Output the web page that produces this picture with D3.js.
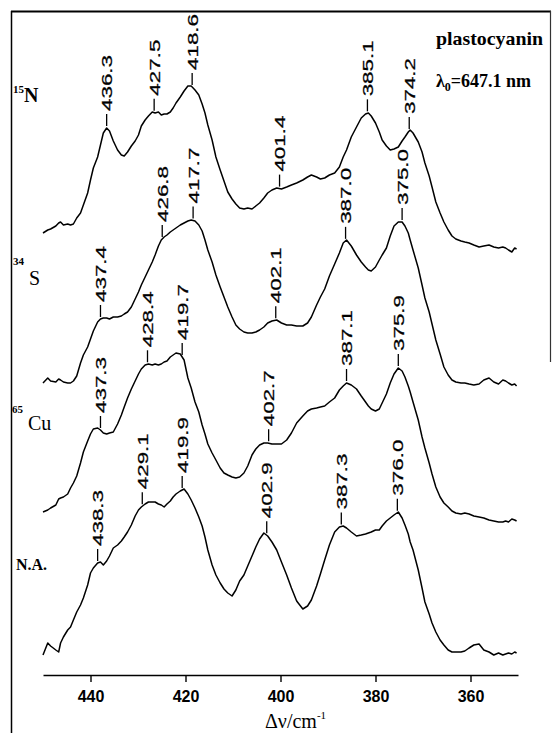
<!DOCTYPE html>
<html><head><meta charset="utf-8">
<script src="https://cdn.jsdelivr.net/npm/d3@7"></script>
<style>body{margin:0;background:#fff}</style>
</head><body>
<svg id="c" width="552" height="733"></svg>
<script>
// Raman shift grid (cm^-1), shared by all four spectra
const wavenumber = [450.0,449.0,448.4,447.3,446.7,446.3,445.7,444.8,444.2,443.6,442.9,442.1,441.5,440.6,440.0,439.4,438.5,437.9,437.3,436.6,436.0,435.2,434.3,433.5,432.9,432.2,431.4,430.6,429.9,429.3,428.5,427.8,427.0,426.4,425.7,425.1,424.5,423.9,423.2,422.6,422.0,421.1,420.3,419.5,418.8,418.0,417.2,416.5,415.9,415.3,414.4,413.6,412.7,411.9,411.1,410.2,409.4,408.6,407.7,406.9,406.0,405.2,404.4,403.5,402.7,401.8,400.8,399.8,398.7,397.7,396.6,395.3,394.3,393.5,392.4,391.6,390.7,389.7,388.6,387.6,386.8,386.1,385.1,384.0,383.0,382.1,381.5,380.9,380.0,379.2,378.6,377.7,376.9,376.1,375.2,374.4,373.8,373.1,372.7,372.1,371.0,370.2,369.6,368.7,368.1,367.3,366.4,365.6,364.7,363.9,363.1,362.0,361.2,360.3,359.3,358.2,357.2,356.1,355.1,354.1,353.2,352.6,352.0,351.3,350.7,350.3];

// Intensities (arbitrary units, stacked with offsets)
const int15N = [442,445,446,449,452,453,450,451,450,451,457,462,470,482,495,507,518,530,542,547,544,534,525,520,519,523,529,534,540,549,555,559,563,562,563,560,561,561,563,567,572,578,584,589,589,585,580,571,562,550,535,518,505,494,483,476,471,467,466,467,466,469,472,477,482,485,487,486,488,490,492,495,498,500,498,496,497,500,502,508,518,525,538,548,557,561,562,559,552,543,535,529,525,526,528,534,538,543,545,542,533,523,512,499,488,473,462,453,445,439,436,434,433,432,430,428,429,430,428,427,428,427,425,423,427,426];
const int34S = [292,297,294,293,296,295,293,292,292,294,299,312,320,328,336,344,353,356,357,357,356,358,358,359,361,363,368,376,383,390,398,405,413,420,429,435,438,440,443,445,447,450,452,454,455,454,450,444,435,425,413,400,388,378,368,358,350,346,343,342,342,343,345,348,352,354,355,352,350,350,349,349,352,358,370,378,386,399,411,422,432,435,429,420,413,408,405,404,408,415,420,427,439,449,453,453,449,442,435,425,407,390,377,363,351,335,321,308,300,295,293,292,292,291,290,291,295,297,293,291,295,294,292,290,291,289];
const int65Cu = [163,165,167,170,176,177,178,181,187,192,199,212,223,234,241,246,247,245,242,241,242,243,251,260,268,277,286,294,301,306,310,311,310,311,310,311,313,314,318,320,322,321,315,297,287,273,263,250,241,231,222,215,207,202,200,198,197,198,202,209,220,226,230,232,232,231,231,231,235,242,252,259,264,266,267,268,269,273,277,285,289,292,290,286,279,273,269,266,264,266,272,281,292,301,307,304,298,289,283,273,255,238,227,212,201,188,178,172,168,164,162,161,162,161,159,158,157,155,154,153,153,154,153,156,155,154];
const intNA = [20,32,29,25,23,32,38,45,48,55,63,70,77,90,102,107,112,113,110,114,119,127,130,134,138,143,150,159,165,168,171,173,173,173,171,170,168,171,174,178,181,184,186,181,175,167,158,149,138,125,110,100,92,86,82,79,85,94,100,109,119,128,136,142,139,133,125,113,100,87,74,66,69,75,89,101,115,130,143,148,149,147,143,139,140,141,142,143,145,145,149,154,157,160,163,157,150,141,133,125,105,87,73,61,52,43,35,30,25,23,23,23,24,27,30,31,25,23,20,22,20,21,22,21,23,22];

const isotopes = ["15","34","65",""];
const elements = ["N","S","Cu","N.A."];

// Peak annotations: which spectrum, printed value, position on the trace (cm^-1)
const peakTrace = [0,0,0,0,0,0, 1,1,1,1,1,1, 2,2,2,2,2,2, 3,3,3,3,3,3];
const peakText = ["436.3","427.5","418.6","401.4","385.1","374.2",
                  "437.4","426.8","417.7","402.1","387.0","375.0",
                  "437.3","428.4","419.7","402.7","387.1","375.9",
                  "438.3","429.1","419.9","402.9","387.3","376.0"];
const peakAt = [436.6,426.6,418.6,400.2,381.7,372.9,
                437.9,424.9,418.4,401.0,386.3,374.4,
                437.9,428.0,420.7,402.5,386.1,375.2,
                438.5,429.1,420.7,402.9,387.2,375.4];

const xTicks = [440,420,400,380,360];

const W = 552, H = 733;
const svg = d3.select("#c");
svg.append("rect").attr("width", W).attr("height", H).attr("fill", "#fff");

const x = d3.scaleLinear().domain([450, 350]).range([43, 518]);
const y = d3.scaleLinear().domain([0, 664]).range([675, 11]);

const series = [int15N, int34S, int65Cu, intNA];
const line = d3.line().x(d => x(d[0])).y(d => y(d[1]));

series.forEach(s => {
  svg.append("path")
    .datum(wavenumber.map((w, i) => [w, s[i]]))
    .attr("d", line)
    .attr("fill", "none")
    .attr("stroke", "#000")
    .attr("stroke-width", 1.5)
    .attr("stroke-linejoin", "round");
});

function valueAt(s, w) {
  for (let i = 0; i < wavenumber.length - 1; i++) {
    const a = wavenumber[i], b = wavenumber[i + 1];
    if (w <= a && w >= b) {
      const t = (a - w) / (a - b);
      return s[i] + t * (s[i + 1] - s[i]);
    }
  }
  return s[0];
}

// peak labels
const lab = svg.append("g");
peakText.forEach((t, i) => {
  const s = series[peakTrace[i]];
  const px = x(peakAt[i]);
  const py = y(valueAt(s, peakAt[i]));
  lab.append("line")
    .attr("x1", px).attr("x2", px)
    .attr("y1", py - 2).attr("y2", py - 14)
    .attr("stroke", "#000").attr("stroke-width", 1.3);
  lab.append("text")
    .attr("transform", `translate(${px},${py - 17}) rotate(-90)`)
    .attr("dominant-baseline", "central")
    .attr("textLength", 56)
    .attr("lengthAdjust", "spacingAndGlyphs")
    .style("font", "15px 'Liberation Sans', Arial, sans-serif")
    .style("stroke", "#000").style("stroke-width", 0.25)
    .text(t);
});

// x axis
const ax = svg.append("g")
  .attr("transform", "translate(0,675)")
  .call(d3.axisBottom(x).tickValues(xTicks).tickSize(7).tickSizeOuter(0).tickFormat(d3.format("d")));
ax.select(".domain").attr("stroke-width", 1.6);
ax.selectAll(".tick line").attr("stroke-width", 1.4);
ax.selectAll(".tick text")
  .attr("y", 27).attr("dy", null)
  .style("font", "bold 16px 'Liberation Sans', Arial, sans-serif");

// x title
const xt = svg.append("text")
  .attr("x", 265).attr("y", 728)
  .style("font", "20px 'Liberation Serif', 'Times New Roman', serif");
xt.append("tspan").text("\u0394\u03bd/cm");
xt.append("tspan").attr("dy", -9).style("font-size", "11px").text("-1");

// frame
svg.append("line").attr("x1", 11.5).attr("x2", 11.5).attr("y1", 11).attr("y2", H)
  .attr("stroke", "#000").attr("stroke-width", 1.5);
svg.append("line").attr("x1", 11).attr("x2", 551).attr("y1", 11.5).attr("y2", 11.5)
  .attr("stroke", "#000").attr("stroke-width", 2);
svg.append("line").attr("x1", 550.5).attr("x2", 550.5).attr("y1", 11).attr("y2", 362)
  .attr("stroke", "#333").attr("stroke-width", 1.2);

// trace names
const namePos = [[13, 102], [13, 285], [12, 430], [16, 570]];
const supRise = [9, 20, 17, 0];
const nameGap = [0, 5, 5, 0];
const nameWeight = ["bold", "normal", "normal", "bold"];
elements.forEach((e, i) => {
  const t = svg.append("text")
    .attr("x", namePos[i][0]).attr("y", namePos[i][1])
    .style("font", `${nameWeight[i]} 20px 'Liberation Serif', 'Times New Roman', serif`);
  if (isotopes[i]) {
    t.append("tspan").attr("dy", -supRise[i]).style("font-size", "11px").style("font-weight", "bold").text(isotopes[i]);
    t.append("tspan").attr("dy", supRise[i]).attr("dx", nameGap[i]).text(e);
  } else {
    t.append("tspan").style("font-size", "16px").text(e);
  }
});

// header text
svg.append("text").attr("x", 436).attr("y", 45)
  .attr("textLength", 107).attr("lengthAdjust", "spacingAndGlyphs")
  .style("font", "bold 19px 'Liberation Serif', 'Times New Roman', serif")
  .text("plastocyanin");
const lam = svg.append("text").attr("x", 436).attr("y", 87)
  .style("font", "bold 18px 'Liberation Serif', 'Times New Roman', serif");
lam.append("tspan").text("\u03bb");
lam.append("tspan").attr("dy", 4).style("font-size", "12px").text("0");
lam.append("tspan").attr("dy", -4).text("=647.1 nm");
</script>
</body></html>
